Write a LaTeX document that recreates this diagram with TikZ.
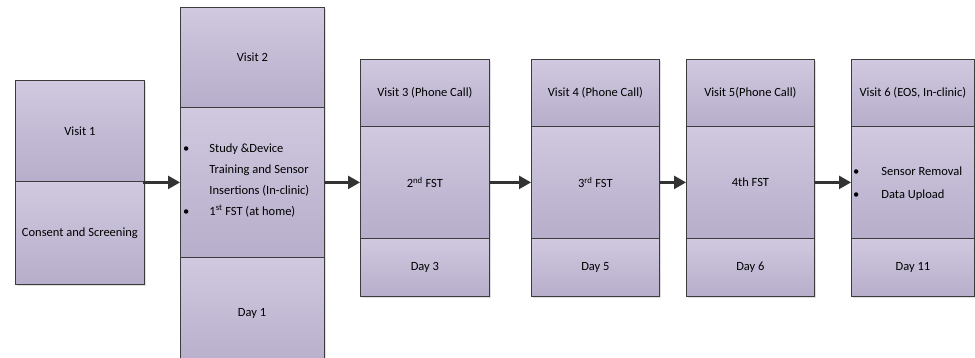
\documentclass[tikz,border=0pt]{standalone}
\usepackage{fontspec}
\setmainfont{Carlito}
\usetikzlibrary{arrows.meta,shadows}
\definecolor{boxtop}{HTML}{D0C9DF}
\definecolor{boxbot}{HTML}{B7AECB}
\definecolor{edge}{HTML}{3C3C3C}
\definecolor{arrowc}{HTML}{333333}
\tikzset{
  sec/.style={draw=edge, line width=0.8pt, top color=boxtop, bottom color=boxbot,
    rectangle, inner sep=0pt, anchor=north west, font=\fontsize{12.5}{15}\selectfont,
    drop shadow={shadow xshift=2pt, shadow yshift=-2pt, opacity=0.25, fill=gray}},
  arr/.style={draw=arrowc, line width=2.4pt, -{Triangle[length=12pt,width=13pt]}},
  lst/.style={anchor=west, inner sep=0pt, align=left}
}
\newcommand{\secbox}[6]{% name, x1, y1, x2, y2, text
  \node[sec, minimum width=#4pt-#2pt, minimum height=#5pt-#3pt] (#1) at (#2pt,-#3pt) {#6};}
\begin{document}
\begin{tikzpicture}[x=1pt,y=1pt]
\useasboundingbox (0,0) rectangle (975,-357);
\clip (0,0) rectangle (975,-357);
% Visit 1
\secbox{v1a}{15}{80}{144}{181}{Visit 1}
\secbox{v1b}{15}{181}{144}{284}{Consent and Screening}
% Visit 2
\secbox{v2a}{180}{7}{324}{107}{Visit 2}
\secbox{v2b}{180}{107}{324}{257}{}
\secbox{v2c}{180}{257}{324}{370}{}
\node[font=\fontsize{12.5}{15}\selectfont] (v2d) at (252,-313) {Day 1};
\node[lst, font=\fontsize{12.5}{21}\selectfont] (v2l) at ([xshift=3pt,yshift=3pt]v2b.west)
  {\begin{tabular}{@{}l@{\hspace{20pt}}l@{}}
   \textbullet & Study \&Device\\
               & Training and Sensor\\
               & Insertions (In-clinic)\\
   \textbullet & 1\textsuperscript{st} FST (at home)
   \end{tabular}};
% Visit 3
\secbox{v3a}{360}{59}{489}{126}{Visit 3 (Phone Call)}
\secbox{v3b}{360}{126}{489}{238}{2\textsuperscript{nd} FST}
\secbox{v3c}{360}{238}{489}{296}{Day 3}
% Visit 4
\secbox{v4a}{531}{59}{659}{126}{Visit 4 (Phone Call)}
\secbox{v4b}{531}{126}{659}{238}{3\textsuperscript{rd} FST}
\secbox{v4c}{531}{238}{659}{296}{Day 5}
% Visit 5
\secbox{v5a}{686}{59}{814}{126}{Visit 5(Phone Call)}
\secbox{v5b}{686}{126}{814}{238}{4th FST}
\secbox{v5c}{686}{238}{814}{296}{Day 6}
% Visit 6
\secbox{v6a}{851}{59}{974}{126}{Visit 6 (EOS, In-clinic)}
\secbox{v6b}{851}{126}{974}{238}{}
\secbox{v6c}{851}{238}{974}{296}{Day 11}
\node[lst, font=\fontsize{12.5}{23}\selectfont] (v6l) at ([xshift=2pt]v6b.west)
  {\begin{tabular}{@{}l@{\hspace{22pt}}l@{}}
   \textbullet & Sensor Removal\\
   \textbullet & Data Upload
   \end{tabular}};
% arrows
\draw[arr] ([xshift=-2pt]v1b.north east |- v2b.west) -- (v2b.west);
\draw[arr] (v2b.east) -- (v3b.west);
\draw[arr] (v3b.east) -- (v4b.west);
\draw[arr] (v4b.east) -- (v5b.west);
\draw[arr] (v5b.east) -- (v6b.west);
\end{tikzpicture}
\end{document}
